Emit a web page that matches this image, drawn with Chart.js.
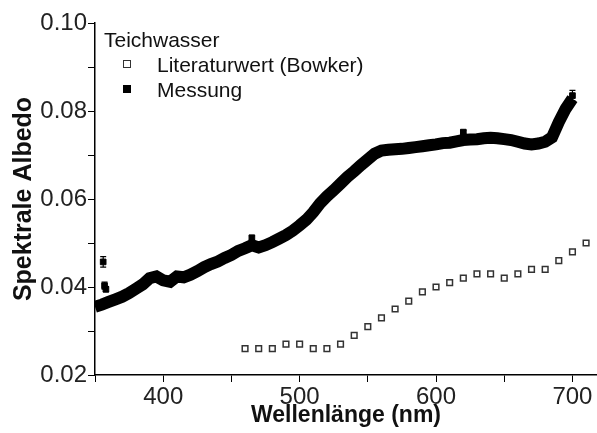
<!DOCTYPE html>
<html>
<head>
<meta charset="utf-8">
<script src="https://cdn.jsdelivr.net/npm/chart.js@4/dist/chart.umd.min.js"></script>
<style>
  html, body { margin: 0; padding: 0; background: #fff; }
  #wrap { position: relative; width: 597px; height: 433px; }
  #legend {
    position: absolute; left: 104px; top: 27px;
    font-family: "Liberation Sans", Arial, sans-serif; font-size: 21px; color: #111;
  }
  #legend div { height: 25px; line-height: 25px; white-space: nowrap; }
  #legend .item { position: relative; padding-left: 53px; }
  #legend .sw { position: absolute; left: 19px; top: 8px; width: 8px; height: 8px; box-sizing: border-box; }
  #legend .open { border: 1.5px solid #333; background: #fff; }
  #legend .full { background: #000; }
</style>
</head>
<body>
<div id="wrap">
  <canvas id="albedoChart" width="597" height="433"></canvas>
  <div id="legend">
    <div>Teichwasser</div>
    <div class="item"><span class="sw open"></span>Literaturwert (Bowker)</div>
    <div class="item"><span class="sw full"></span>Messung</div>
  </div>
</div>
<script>
// ---------------------------------------------------------------------------
// Data
// ---------------------------------------------------------------------------

const xTickValues = [350, 400, 450, 500, 550, 600, 650, 700];
const xTickLabels = ['', '400', '', '500', '', '600', '', '700'];
const yTickValues = [0.02, 0.03, 0.04, 0.05, 0.06, 0.07, 0.08, 0.09, 0.10];
const yTickLabels = ['0.02', '', '0.04', '', '0.06', '', '0.08', '', '0.10'];

// Literaturwert (Bowker)
const literNm  = [460, 470, 480, 490, 500, 510, 520, 530, 540, 550, 560, 570, 580,
                  590, 600, 610, 620, 630, 640, 650, 660, 670, 680, 690, 700, 710];
const literVal = [0.026, 0.026, 0.026, 0.027, 0.027, 0.026, 0.026, 0.027, 0.029, 0.031, 0.033, 0.035, 0.0368,
                  0.0389, 0.040, 0.041, 0.042, 0.043, 0.043, 0.042, 0.043, 0.044, 0.044, 0.046, 0.048, 0.050];

// Messung (band centre)
const messNm  = [350, 355, 360, 365, 370, 375, 380, 385, 390, 395, 400, 405, 410, 415, 420,
                 425, 430, 435, 440, 445, 450, 455, 460, 465, 470, 475, 480, 485, 490, 495,
                 500, 505, 510, 515, 520, 525, 530, 535, 540, 545, 550, 555, 560, 565, 570,
                 575, 580, 585, 590, 595, 600, 605, 610, 615, 620, 625, 630, 635, 640, 645,
                 650, 655, 660, 665, 670, 675, 680, 685, 690, 695, 700];
const messVal = [0.0355, 0.0360, 0.0366, 0.0372, 0.0378, 0.0386, 0.0396, 0.0406, 0.0420, 0.0424, 0.0415, 0.0412, 0.0424, 0.0422, 0.0428,
                 0.0436, 0.0445, 0.0452, 0.0458, 0.0466, 0.0473, 0.0482, 0.0488, 0.0495, 0.0490, 0.0495, 0.0502, 0.0510, 0.0518, 0.0528,
                 0.0540, 0.0553, 0.0570, 0.0590, 0.0606, 0.0620, 0.0635, 0.0650, 0.0663, 0.0677, 0.0690, 0.0703, 0.0710, 0.0712, 0.0713,
                 0.0714, 0.0716, 0.0718, 0.0720, 0.0722, 0.0724, 0.0727, 0.0728, 0.0731, 0.0734, 0.0735, 0.0736, 0.0738, 0.0739, 0.0738,
                 0.0736, 0.0734, 0.0730, 0.0726, 0.0724, 0.0726, 0.0730, 0.0740, 0.0775, 0.0805, 0.0828];

// Messung points that stick out of the band, with error bars
const spikeNm  = [356, 357, 358, 465, 620, 700];
const spikeVal = [0.0457, 0.0403, 0.0395, 0.0512, 0.0752, 0.0835];
const spikeErr = [0.0012, 0.0008, 0.0006, 0.0004, 0.0004, 0.0012];

// ---------------------------------------------------------------------------
// Helpers
// ---------------------------------------------------------------------------

function toPoints(xs, ys) {
  return xs.map(function (x, i) { return { x: x, y: ys[i] }; });
}

const FONT = '"Liberation Sans", Arial, sans-serif';

const errorBars = {
  id: 'errorBars',
  afterDatasetsDraw: function (chart) {
    const meta = chart.getDatasetMeta(2);
    const y = chart.scales.y;
    const ctx = chart.ctx;
    ctx.save();
    ctx.strokeStyle = '#000';
    ctx.lineWidth = 1.2;
    meta.data.forEach(function (pt, i) {
      const top = y.getPixelForValue(spikeVal[i] + spikeErr[i]);
      const bot = y.getPixelForValue(spikeVal[i] - spikeErr[i]);
      ctx.beginPath();
      ctx.moveTo(pt.x, top); ctx.lineTo(pt.x, bot);
      ctx.moveTo(pt.x - 3, top); ctx.lineTo(pt.x + 3, top);
      ctx.moveTo(pt.x - 3, bot); ctx.lineTo(pt.x + 3, bot);
      ctx.stroke();
    });
    ctx.restore();
  }
};

// ---------------------------------------------------------------------------
// Chart
// ---------------------------------------------------------------------------

new Chart(document.getElementById('albedoChart').getContext('2d'), {
  type: 'scatter',
  data: {
    datasets: [
      {
        label: 'Literaturwert (Bowker)',
        data: toPoints(literNm, literVal),
        pointStyle: 'rect',
        pointRadius: 4,
        borderColor: '#333',
        backgroundColor: '#fff',
        borderWidth: 1.5
      },
      {
        label: 'Messung',
        data: toPoints(messNm, messVal),
        showLine: true,
        borderColor: '#000',
        backgroundColor: '#000',
        borderWidth: 12,
        pointRadius: 0,
        tension: 0
      },
      {
        label: 'Messung',
        data: toPoints(spikeNm, spikeVal),
        pointStyle: 'rect',
        pointRadius: 4,
        borderColor: '#000',
        backgroundColor: '#000',
        borderWidth: 1
      }
    ]
  },
  options: {
    responsive: false,
    animation: false,
    devicePixelRatio: 1,
    layout: { autoPadding: false, padding: { top: 23, right: 0, left: 0, bottom: 0 } },
    plugins: { legend: { display: false }, tooltip: { enabled: false } },
    scales: {
      x: {
        type: 'linear',
        min: 350,
        max: 718,
        afterBuildTicks: function (s) { s.ticks = xTickValues.map(function (v) { return { value: v }; }); },
        afterFit: function (s) { s.height = 58; s.paddingLeft = 0; s.paddingRight = 0; },
        grid: { drawOnChartArea: false, drawTicks: true, tickLength: 7, color: '#000' },
        border: { display: true, color: '#000', width: 1.5 },
        ticks: {
          padding: 1,
          color: '#222',
          font: { family: FONT, size: 24 },
          maxRotation: 0,
          autoSkip: false,
          callback: function (v) { return xTickLabels[xTickValues.indexOf(v)]; }
        },
        title: {
          display: true,
          text: 'Wellenlänge (nm)',
          color: '#111',
          font: { family: FONT, size: 23, weight: 'bold' },
          padding: { top: 0, bottom: 4 }
        }
      },
      y: {
        min: 0.02,
        max: 0.10,
        afterBuildTicks: function (s) { s.ticks = yTickValues.map(function (v) { return { value: v }; }); },
        afterFit: function (s) { s.width = 95; },
        grid: { drawOnChartArea: false, drawTicks: true, tickLength: 7, color: '#000' },
        border: { display: true, color: '#000', width: 1.5 },
        ticks: {
          padding: 1,
          color: '#222',
          font: { family: FONT, size: 24 },
          autoSkip: false,
          callback: function (v) { return yTickLabels[yTickValues.indexOf(v)]; }
        },
        title: {
          display: true,
          text: 'Spektrale Albedo',
          color: '#111',
          font: { family: FONT, size: 25, weight: 'bold' },
          padding: { top: 9, bottom: 0 }
        }
      }
    }
  },
  plugins: [errorBars]
});
</script>
</body>
</html>
